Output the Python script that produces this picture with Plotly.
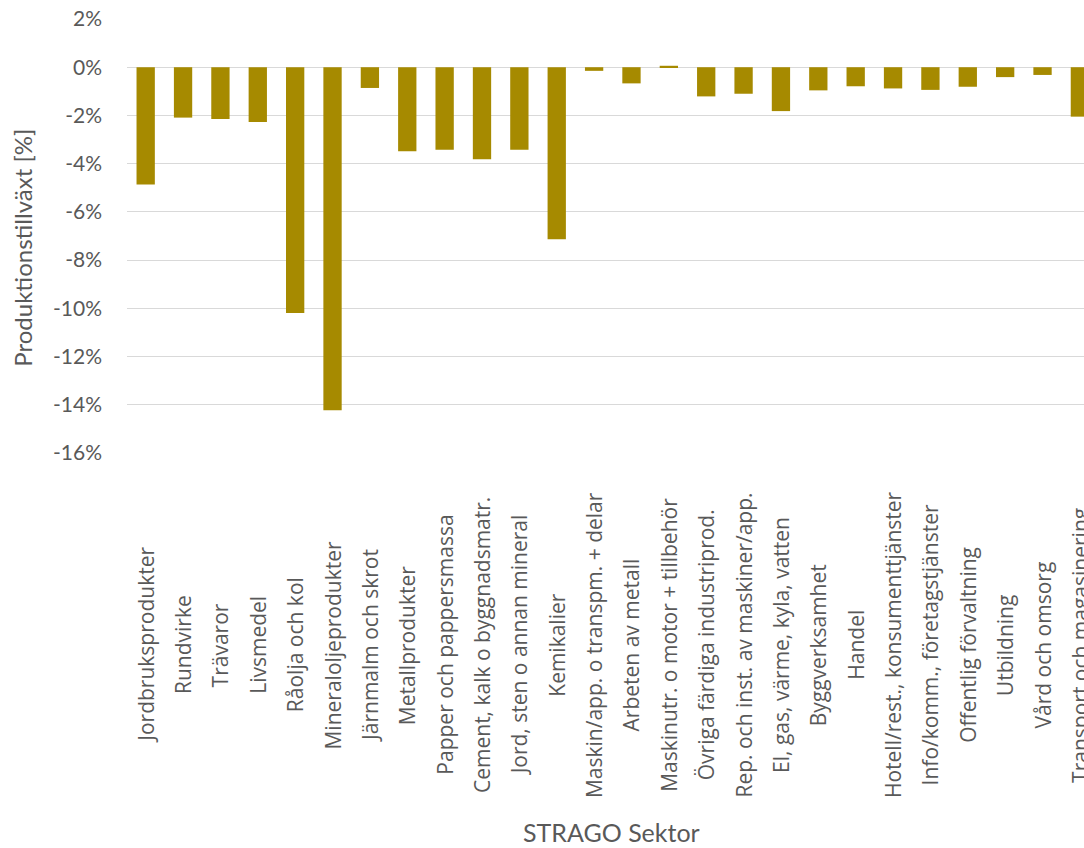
import plotly.graph_objects as go

categories = [
    "Jordbruksprodukter", "Rundvirke", "Trävaror", "Livsmedel", "Råolja och kol",
    "Mineraloljeprodukter", "Järnmalm och skrot", "Metallprodukter",
    "Papper och pappersmassa", "Cement, kalk o byggnadsmatr.",
    "Jord, sten o annan mineral", "Kemikalier", "Maskin/app. o transpm. + delar",
    "Arbeten av metall", "Maskinutr. o motor + tillbehör", "Övriga färdiga industriprod.",
    "Rep. och inst. av maskiner/app.", "El, gas, värme, kyla, vatten", "Byggverksamhet",
    "Handel", "Hotell/rest., konsumenttjänster", "Info/komm., företagstjänster",
    "Offentlig förvaltning", "Utbildning", "Vård och omsorg", "Transport och magasinering",
]
growth = [
    -4.86, -2.09, -2.15, -2.27, -10.19,
    -14.23, -0.86, -3.48,
    -3.42, -3.82,
    -3.42, -7.13, -0.15,
    -0.67, 0.06, -1.21,
    -1.10, -1.82, -0.96,
    -0.79, -0.88, -0.94,
    -0.81, -0.41, -0.32, -2.05,
]
ytick_vals = [2, 0, -2, -4, -6, -8, -10, -12, -14, -16]
ytick_text = ["2%", "0%", "-2%", "-4%", "-6%", "-8%", "-10%", "-12%", "-14%", "-16%"]

x_idx = list(range(len(categories)))
TXT = "#595959"

fig = go.Figure(go.Bar(x=x_idx, y=growth, marker=dict(color="#A68A00", line=dict(width=0))))

annotations = []
for i, c in zip(x_idx, categories):
    annotations.append(dict(
        x=i, xref="x", y=-0.4424, yref="paper", text=c, textangle=-90,
        showarrow=False, xanchor="center", yanchor="middle",
        font=dict(family="Open Sans", size=21, color=TXT),
    ))
annotations.append(dict(
    x=0.506, xref="paper", y=-0.873, yref="paper", text="STRAGO Sektor",
    showarrow=False, xanchor="center", yanchor="middle",
    font=dict(family="Lato", size=25, color=TXT),
))
annotations.append(dict(
    x=-0.1087, xref="paper", y=0.473, yref="paper", text="Produktionstillväxt [%]",
    textangle=-90, showarrow=False, xanchor="center", yanchor="middle",
    font=dict(family="Lato", size=24, color=TXT),
))

fig.update_layout(
    width=1084, height=848, autosize=False,
    margin=dict(l=127, r=0, t=19, b=395, pad=0),
    paper_bgcolor="white", plot_bgcolor="white",
    bargap=0.51, showlegend=False,
    annotations=annotations,
    xaxis=dict(range=[-0.5, 25.11], showticklabels=False, showgrid=False,
               zeroline=False, showline=False, ticks=""),
    yaxis=dict(range=[-16, 2], tickvals=ytick_vals, ticktext=ytick_text,
               showgrid=True, gridcolor="#D9D9D9", gridwidth=1.3,
               zeroline=False, showline=False, ticks="", ticklabelstandoff=24,
               tickfont=dict(family="Lato", size=21, color=TXT)),
)

fig.write_html("out.html")
